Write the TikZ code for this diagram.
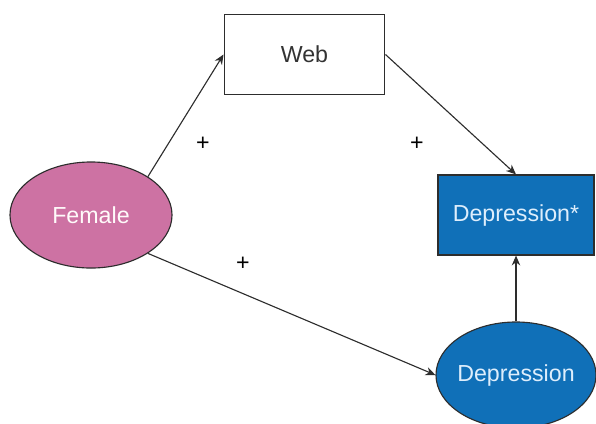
\documentclass[tikz,border=0pt]{standalone}
\usepackage{fontspec}
\setmainfont{Liberation Sans}
\usepackage{tikz}
\usetikzlibrary{arrows.meta, shapes, positioning}
\definecolor{femalepink}{RGB}{205,114,163}
\definecolor{depblue}{RGB}{16,112,184}
\definecolor{deptext}{RGB}{222,238,252}
\definecolor{linegray}{RGB}{45,45,45}

\tikzset{
  box/.style={draw=linegray, line width=0.8pt, minimum width=4.02cm, minimum height=2.02cm, font=\fontsize{16.5}{20}\selectfont},
  oval/.style={ellipse, draw=linegray, line width=0.8pt, inner xsep=-3pt, inner ysep=0pt, minimum width=4.05cm, minimum height=2.65cm, font=\fontsize{16.5}{20}\selectfont},
  link/.style={-{Stealth[length=7pt,width=6pt]}, draw=linegray, line width=0.8pt},
  sign/.style={font=\fontsize{16.5}{20}\selectfont}
}

\begin{document}
\begin{tikzpicture}[x=0.025cm,y=-0.025cm]
\useasboundingbox (0,0) rectangle (596,423);

\node[box, fill=white, text=black!80] (web) at (304.5,54.5) {Web};
\node[oval, fill=femalepink, text=white!92!pink] (female) at (91,215) {Female};
\node[box, fill=depblue, text=deptext, minimum width=3.9cm, minimum height=2cm] (depstar) at (516,215) {Depression*};
\node[oval, fill=depblue, text=deptext, minimum width=4cm] (dep) at (516,375) {Depression};

\draw[link] (female.34) -- (web.west);
\draw[link] (web.east) -- (depstar.north);
\draw[link] (female.-34) -- (dep.west);
\draw[link] (dep) -- (depstar);

\node[sign] (p1) at (203,144) {+};
\node[sign] (p2) at (417,144) {+};
\node[sign] (p3) at (243,264) {+};

\end{tikzpicture}
\end{document}
